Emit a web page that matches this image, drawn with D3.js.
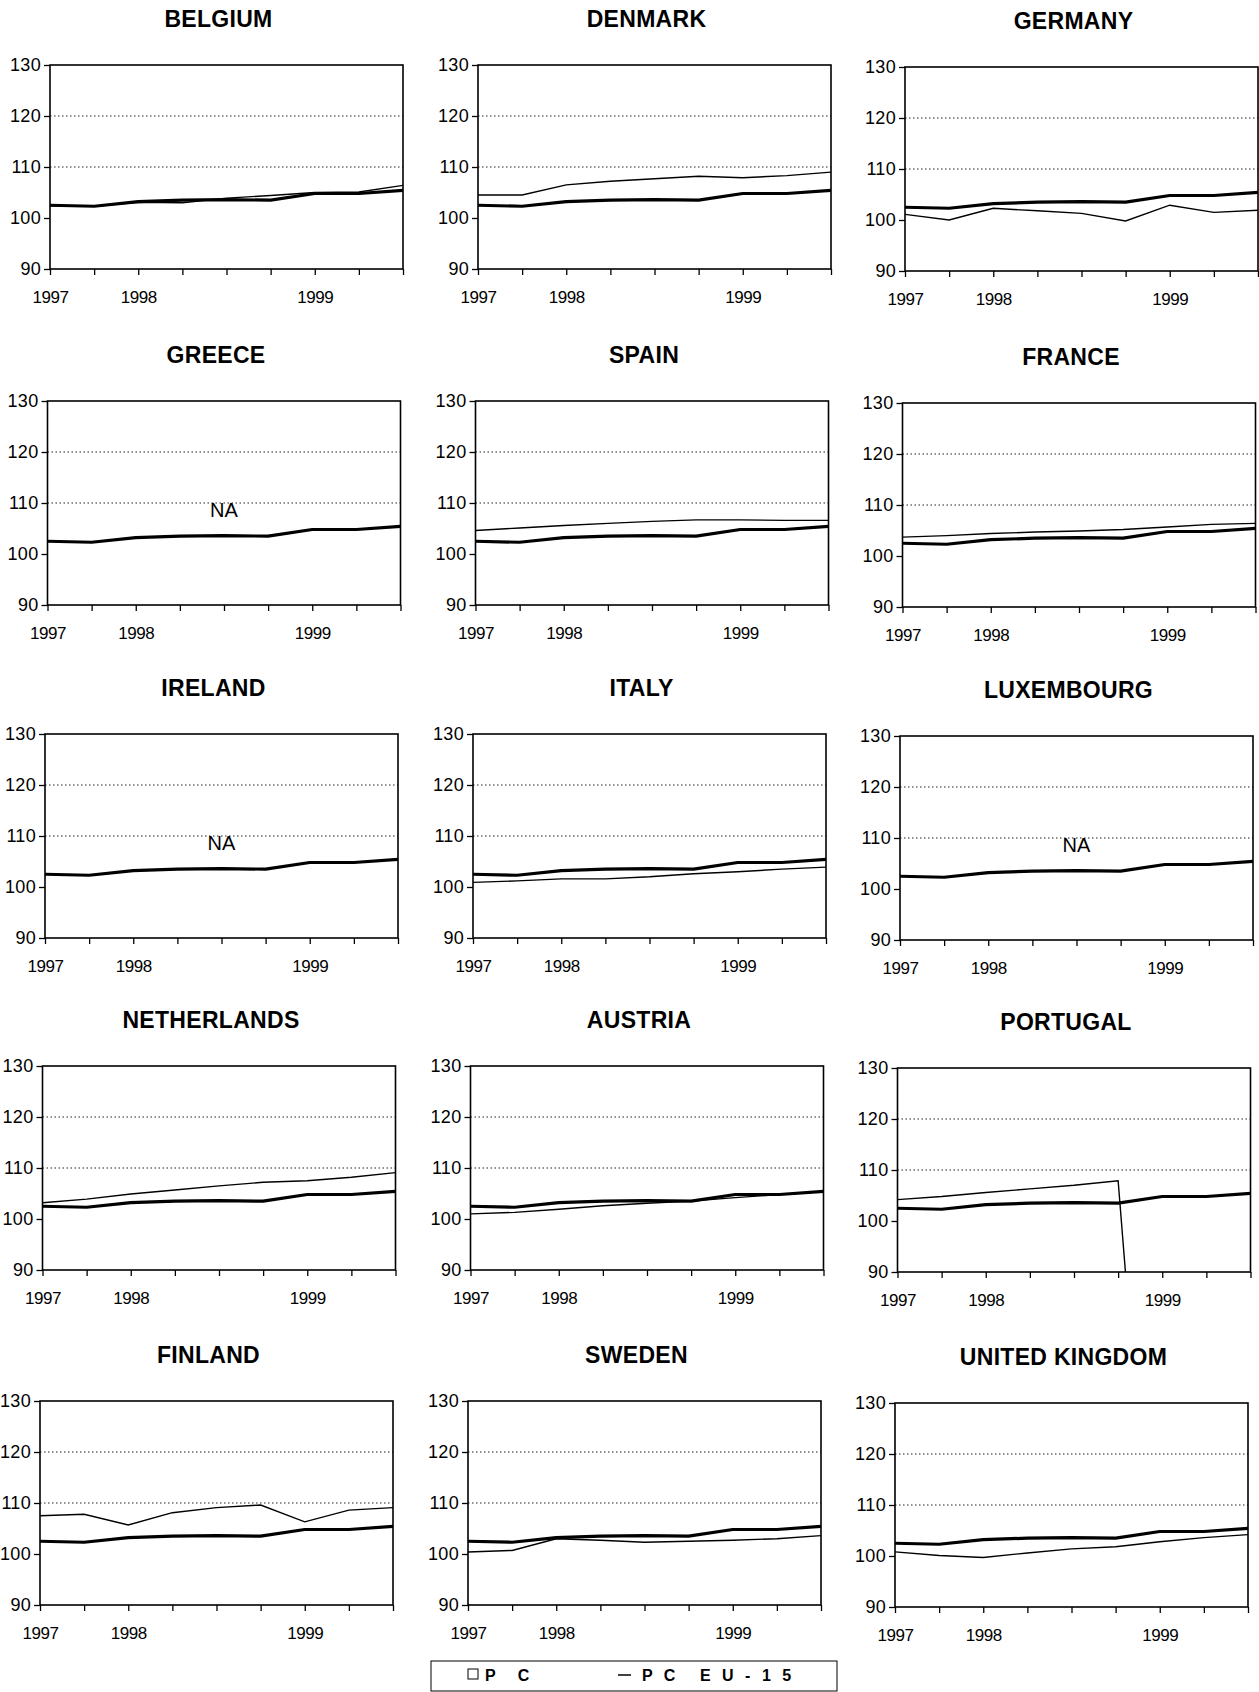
<!DOCTYPE html>
<html>
<head>
<meta charset="utf-8">
<script src="https://cdn.jsdelivr.net/npm/d3@7"></script>
<style>
  body { margin: 0; background: #fff; }
  svg text { font-family: Arial, 'Liberation Sans', sans-serif; fill: #000; }
  .title { font-size: 23px; font-weight: bold; letter-spacing: 0.3px; }
  .y-axis text { font-size: 18px; letter-spacing: 0.3px; }
  .x-axis text { font-size: 17px; letter-spacing: -0.5px; }
  .na-label { font-size: 20px; }
  .legend text { font-size: 16px; font-weight: bold; letter-spacing: 3.5px; }
</style>
</head>
<body>
<div id="chart"></div>
<script>
// Countries in reading order (3 per row)
const countries = ['BELGIUM', 'DENMARK', 'GERMANY', 'GREECE', 'SPAIN', 'FRANCE',
  'IRELAND', 'ITALY', 'LUXEMBOURG', 'NETHERLANDS', 'AUSTRIA', 'PORTUGAL',
  'FINLAND', 'SWEDEN', 'UNITED KINGDOM'];

// 9 quarterly points, only some ticks carry a year label
const xTickLabels = ['1997', '', '1998', '', '', '', '1999', '', ''];
const yTicks = [90, 100, 110, 120, 130];
const gridValues = [110, 120];

// PC EU-15 (thick line, same in every panel)
const pcEU15 = [102.5, 102.3, 103.2, 103.5, 103.6, 103.5, 104.8, 104.8, 105.4];

// PC per country (thin line), null = NA
const pcBelgium     = [102.4, 102.3, 103.1, 103.0, 103.9, 104.4, 105.0, 105.1, 106.4];
const pcDenmark     = [104.5, 104.5, 106.5, 107.2, 107.7, 108.2, 107.9, 108.3, 109.0];
const pcGermany     = [101.1, 100.0, 102.3, 101.8, 101.3, 99.8, 102.9, 101.5, 101.9];
const pcGreece      = null;
const pcSpain       = [104.6, 105.1, 105.6, 106.0, 106.4, 106.7, 106.7, 106.6, 106.6];
const pcFrance      = [103.7, 104.0, 104.4, 104.7, 104.9, 105.2, 105.7, 106.2, 106.4];
const pcIreland     = null;
const pcItaly       = [100.9, 101.2, 101.6, 101.6, 102.0, 102.6, 103.0, 103.5, 103.9];
const pcLuxembourg  = null;
const pcNetherlands = [103.2, 103.9, 104.9, 105.7, 106.5, 107.2, 107.5, 108.2, 109.1];
const pcAustria     = [101.0, 101.3, 101.9, 102.6, 103.1, 103.5, 104.2, 104.8, 105.4];
const pcPortugal    = [104.2, 104.8, 105.6, 106.3, 107.0, 107.9, 0, 0, 0];
const pcFinland     = [107.5, 107.8, 105.7, 108.1, 109.1, 109.6, 106.3, 108.6, 109.1];
const pcSweden      = [100.4, 100.7, 103.0, 102.7, 102.3, 102.5, 102.7, 103.0, 103.6];
const pcUK          = [100.8, 100.1, 99.7, 100.6, 101.4, 101.8, 102.8, 103.6, 104.2];

const pcByCountry = [pcBelgium, pcDenmark, pcGermany, pcGreece, pcSpain, pcFrance,
  pcIreland, pcItaly, pcLuxembourg, pcNetherlands, pcAustria, pcPortugal,
  pcFinland, pcSweden, pcUK];

class CountryPanel {
  constructor(_config, _data) {
    this.config = {
      parent: _config.parent,
      left: _config.left,
      top: _config.top,
      width: _config.width || 353,
      height: _config.height || 204,
      id: _config.id
    };
    this.data = _data;
    this.initVis();
  }

  initVis() {
    let vis = this;
    const w = vis.config.width, h = vis.config.height;

    vis.g = vis.config.parent.append('g')
        .attr('transform', `translate(${vis.config.left},${vis.config.top})`);

    vis.x = d3.scaleLinear().domain([0, xTickLabels.length - 1]).range([0, w]);
    vis.y = d3.scaleLinear().domain([90, 130]).range([h, 0]);

    // title
    vis.g.append('text')
        .attr('class', 'title')
        .attr('x', w / 2 - 8)
        .attr('y', -38)
        .attr('text-anchor', 'middle')
        .text(vis.data.name);

    // dotted gridlines
    vis.g.selectAll('.grid')
        .data(gridValues)
        .join('line')
        .attr('class', 'grid')
        .attr('x1', 0).attr('x2', w)
        .attr('y1', d => vis.y(d)).attr('y2', d => vis.y(d))
        .attr('stroke', '#222')
        .attr('stroke-width', 1)
        .attr('stroke-dasharray', '1.5,2.5');

    // axes
    const yAxis = d3.axisLeft(vis.y).tickValues(yTicks).tickSize(6).tickPadding(3).tickSizeOuter(0);
    const xAxis = d3.axisBottom(vis.x).tickValues(d3.range(xTickLabels.length))
        .tickFormat(i => xTickLabels[i]).tickSize(6).tickPadding(16).tickSizeOuter(0);

    vis.g.append('g').attr('class', 'y-axis').call(yAxis)
        .call(g => g.select('.domain').remove())
        .call(g => g.selectAll('line').attr('stroke', '#000').attr('stroke-width', 1.3));
    vis.g.append('g').attr('class', 'x-axis')
        .attr('transform', `translate(0,${h})`)
        .call(xAxis)
        .call(g => g.select('.domain').remove())
        .call(g => g.selectAll('line').attr('stroke', '#000').attr('stroke-width', 1.3));

    // frame
    vis.g.append('rect')
        .attr('width', w).attr('height', h)
        .attr('fill', 'none')
        .attr('stroke', '#000')
        .attr('stroke-width', 1.6);

    // clip for the plot area
    vis.g.append('clipPath').attr('id', 'clip-' + vis.config.id)
      .append('rect').attr('width', w).attr('height', h);

    const line = d3.line()
        .x((d, i) => vis.x(i))
        .y(d => vis.y(d));

    const plot = vis.g.append('g').attr('clip-path', `url(#clip-${vis.config.id})`);

    plot.append('path')
        .datum(vis.data.eu)
        .attr('d', line)
        .attr('fill', 'none')
        .attr('stroke', '#000')
        .attr('stroke-width', 3.2)
        .attr('stroke-linejoin', 'round');

    if (vis.data.pc) {
      plot.append('path')
          .datum(vis.data.pc)
          .attr('d', line)
          .attr('fill', 'none')
          .attr('stroke', '#000')
          .attr('stroke-width', 1.4);
    } else {
      vis.g.append('text')
          .attr('class', 'na-label')
          .attr('x', w / 2)
          .attr('y', vis.y(108.6) + 7)
          .attr('text-anchor', 'middle')
          .text('NA');
    }
  }
}

const svg = d3.select('#chart').append('svg')
    .attr('width', 1259)
    .attr('height', 1692);

const colLeft = [50, 478, 905];
const rowTop = [65, 401, 734, 1066, 1401];

countries.forEach((name, i) => {
  const row = Math.floor(i / 3), col = i % 3;
  new CountryPanel({
    parent: svg,
    left: colLeft[col] - row * 2.5,
    top: rowTop[row] + (col === 2 ? 2 : 0),
    id: i
  }, { name: name, pc: pcByCountry[i], eu: pcEU15 });
});

// legend
const legend = svg.append('g').attr('class', 'legend');
legend.append('rect')
    .attr('x', 431).attr('y', 1661)
    .attr('width', 406).attr('height', 30)
    .attr('fill', 'none').attr('stroke', '#000').attr('stroke-width', 1);
legend.append('rect')
    .attr('x', 468).attr('y', 1669)
    .attr('width', 10).attr('height', 10)
    .attr('fill', 'none').attr('stroke', '#000').attr('stroke-width', 1);
legend.append('text').attr('x', 485).attr('y', 1681)
    .style('letter-spacing', '9px').text('P C');
legend.append('line')
    .attr('x1', 618).attr('x2', 631)
    .attr('y1', 1675).attr('y2', 1675)
    .attr('stroke', '#000').attr('stroke-width', 1.5);
legend.append('text').attr('x', 642).attr('y', 1681).text('P C');
legend.append('text').attr('x', 700).attr('y', 1681).text('E U - 1 5');
</script>
</body>
</html>
